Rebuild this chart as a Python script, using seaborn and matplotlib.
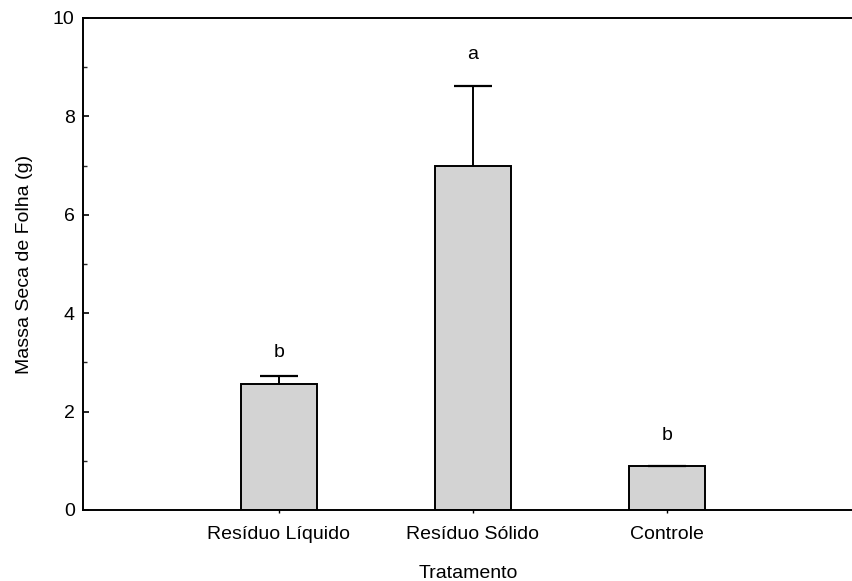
import matplotlib
matplotlib.use("Agg")
import matplotlib.pyplot as plt
import seaborn as sns
import pandas as pd
from matplotlib.ticker import MultipleLocator

categories = ["Resíduo Líquido", "Resíduo Sólido", "Controle"]
means = [2.57, 7.00, 0.89]
upper_err = [0.16, 1.62, 0.01]
letters = ["b", "a", "b"]
letter_y = [3.2, 9.25, 1.52]
yticks = [0, 2, 4, 6, 8, 10]

sns.set_theme(style="white")
plt.rcParams["font.family"] = ["Liberation Sans", "DejaVu Sans"]

df = pd.DataFrame({"Tratamento": categories, "Massa": means})

fig = plt.figure(figsize=(8.53, 5.81), dpi=100)
ax = fig.add_axes([83 / 853, 1 - 510 / 581, 1 - 83 / 853, (510 - 18) / 581])

sns.barplot(data=df, x="Tratamento", y="Massa", color="#d3d3d3", saturation=1,
            width=0.39, edgecolor="black", linewidth=1.4, errorbar=None, ax=ax)

xpos = list(range(len(categories)))
eb = ax.errorbar(xpos, means, yerr=[[0] * len(means), upper_err], fmt="none",
                 ecolor="black", elinewidth=1.4, capsize=14, capthick=1.6, zorder=3)
caps = eb[1]
if len(caps) == 2:
    caps[0].set_visible(False)

for x, t, y in zip(xpos, letters, letter_y):
    ax.text(x, y, t, ha="center", va="center", fontsize=14, color="black")

ax.set_xlim(-1.01, 2.96)
ax.set_ylim(0, 10)
ax.set_yticks(yticks)
ax.set_yticklabels([str(v) for v in yticks])
ax.yaxis.set_minor_locator(MultipleLocator(1))

for s in ["left", "bottom", "top"]:
    ax.spines[s].set_visible(True)
    ax.spines[s].set_color("black")
    ax.spines[s].set_linewidth(1.4)
ax.spines["right"].set_visible(False)

ax.tick_params(axis="y", which="major", direction="in", length=4, width=1.2,
               labelsize=14, colors="black", left=True, pad=6)
ax.tick_params(axis="y", which="minor", direction="in", length=3, width=1.0, left=True)
ax.tick_params(axis="x", which="major", direction="inout", length=5, width=1.0,
               labelsize=14, colors="black", bottom=True, pad=9)

ax.set_xlabel("Tratamento", fontsize=14, color="black", labelpad=16)
ax.set_ylabel("Massa Seca de Folha (g)", fontsize=14, color="black", labelpad=14)

fig.savefig("out.png", dpi=100)
